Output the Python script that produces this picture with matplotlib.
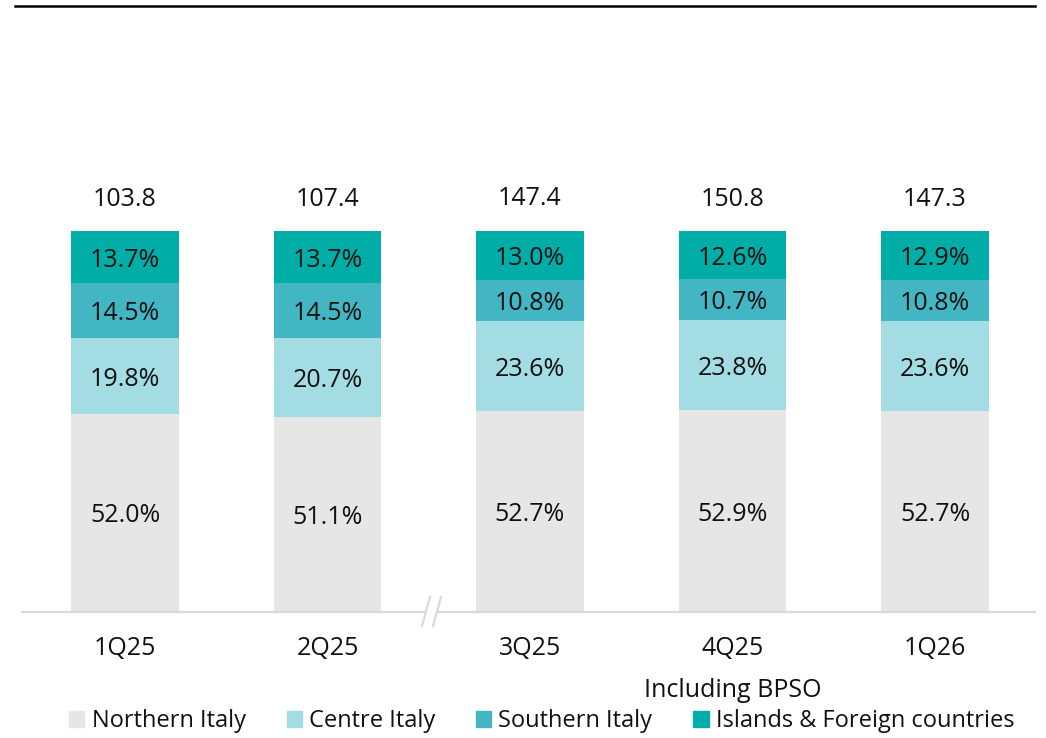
import matplotlib
matplotlib.use("Agg")
import matplotlib.pyplot as plt
import matplotlib.patches as mpatches
from matplotlib.lines import Line2D

plt.rcParams['font.family'] = ['Open Sans', 'DejaVu Sans']

# quarters and regional mix (% of total)
quarters = ["1Q25", "2Q25", "3Q25", "4Q25", "1Q26"]
totals = [103.8, 107.4, 147.4, 150.8, 147.3]
northern = [52.0, 51.1, 52.7, 52.9, 52.7]
centre = [19.8, 20.7, 23.6, 23.8, 23.6]
southern = [14.5, 14.5, 10.8, 10.7, 10.8]
islands = [13.7, 13.7, 13.0, 12.6, 12.9]

series = [
    ("Northern Italy", northern, "#E6E6E6"),
    ("Centre Italy", centre, "#A3DCE3"),
    ("Southern Italy", southern, "#43B6C4"),
    ("Islands & Foreign countries", islands, "#00ADA7"),
]

FS = 18
W, H = 1046, 738
fig = plt.figure(figsize=(W / 100, H / 100), dpi=100)
ax = fig.add_axes([0, 1 - 612 / H, 1, (612 - 231) / H])
ax.set_xlim(-125 / 202.5, (W - 125) / 202.5)
ax.set_ylim(0, 100)
ax.axis("off")

x = list(range(len(quarters)))
bottom = [0.0] * len(quarters)
for name, vals, col in series:
    ax.bar(x, vals, width=0.53, bottom=bottom, color=col, edgecolor="none")
    for i, v in enumerate(vals):
        ax.text(x[i], bottom[i] + v / 2, f"{v:.1f}%", ha="center", va="center_baseline",
                fontsize=FS, color="#111111")
    bottom = [b + v for b, v in zip(bottom, vals)]

for i, t in enumerate(totals):
    ax.annotate(f"{t:.1f}", (x[i], bottom[i]), xytext=(0, 23), textcoords="offset points",
                ha="center", va="center", fontsize=FS, color="#111111")
    ax.annotate(quarters[i], (x[i], 0), xytext=(0, -26.5), textcoords="offset points",
                ha="center", va="center", fontsize=FS, color="#111111")

ax.annotate("Including BPSO", (x[3], 0), xytext=(0, -56.5), textcoords="offset points",
            ha="center", va="center", fontsize=FS, color="#111111")

# decorations in pixel space
def px(xp, yp):
    return xp / W, 1 - yp / H

base = "#D9D9D9"
for (x0, x1) in [(22, 424), (439, 1035)]:
    fig.add_artist(Line2D([px(x0, 612)[0], px(x1, 612)[0]], [px(0, 612)[1]] * 2,
                          color=base, lw=1.6))
for dx in (0, 11):
    a = px(422 + dx, 626)
    b = px(430 + dx, 597)
    fig.add_artist(Line2D([a[0], b[0]], [a[1], b[1]], color=base, lw=1.6))

fig.add_artist(Line2D([px(15, 6)[0], px(1035, 6)[0]], [px(0, 6)[1]] * 2, color="black", lw=1.8))

# legend
handles = [mpatches.Patch(color=c, label=n) for n, _, c in series]
fig.legend(handles=handles, loc="center", bbox_to_anchor=(0.518, 1 - 721 / H), ncol=4,
           frameon=False, fontsize=17, handlelength=0.64, handleheight=0.64,
           handletextpad=0.3, columnspacing=1.74, labelcolor="#111111")

fig.savefig("out.png", dpi=100)
